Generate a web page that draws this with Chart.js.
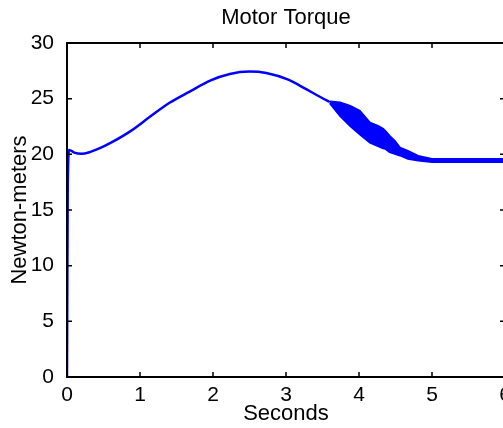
<!DOCTYPE html>
<html>
<head>
<meta charset="utf-8">
<script src="https://cdn.jsdelivr.net/npm/chart.js@4.4.1/dist/chart.umd.min.js"></script>
<style>
  html, body { margin: 0; padding: 0; background: #fff; overflow: hidden; }
</style>
</head>
<body>
<canvas id="torqueChart" width="520" height="428"></canvas>
<script>
// Smooth part of the torque trace (seconds, N·m)
const timeSmooth = [0, 0.01, 0.03, 0.1, 0.2, 0.32, 0.45, 0.59, 0.86, 1.14, 1.41, 1.68, 1.96, 2.23, 2.5, 2.73, 3.04, 3.25, 3.47, 3.6];
const torqueSmooth = [0, 17, 20.4, 20.15, 20.05, 20.22, 20.55, 21.0, 22.04, 23.39, 24.65, 25.63, 26.62, 27.22, 27.43, 27.3, 26.68, 25.95, 25.15, 24.7];

// Oscillating part: upper and lower edge of the band
const timeBand = [3.6, 3.74, 3.88, 4.01, 4.15, 4.26, 4.33, 4.36, 4.42, 4.49, 4.56, 4.67, 4.81, 5.0, 5.2, 6.0];
const torqueUpper = [24.75, 24.65, 24.35, 23.9, 22.85, 22.55, 22.3, 22.1, 21.65, 21.2, 20.6, 20.3, 19.85, 19.58, 19.58, 19.58];
const torqueLower = [24.6, 23.45, 22.55, 21.8, 21.05, 20.75, 20.55, 20.5, 20.2, 20.05, 19.9, 19.6, 19.45, 19.32, 19.32, 19.32];

const xTicks = [0, 1, 2, 3, 4, 5, 6];
const yTicks = [0, 5, 10, 15, 20, 25, 30];

const FONT = '"Liberation Sans", Arial, sans-serif';
const BLUE = '#0000ff';

const toPoints = (xs, ys) => xs.map((x, i) => ({ x: x, y: ys[i] }));

// MATLAB style box with inward ticks on all four sides
const boxPlugin = {
  id: 'matlabBox',
  afterDraw(chart) {
    const { ctx, chartArea: a, scales: { x, y } } = chart;
    ctx.save();
    ctx.strokeStyle = '#000';
    ctx.lineWidth = 2;
    ctx.strokeRect(a.left, a.top, a.right - a.left, a.bottom - a.top);
    ctx.lineWidth = 1.5;
    ctx.beginPath();
    xTicks.forEach(v => {
      const px = x.getPixelForValue(v);
      ctx.moveTo(px, a.bottom); ctx.lineTo(px, a.bottom - 5);
      ctx.moveTo(px, a.top); ctx.lineTo(px, a.top + 5);
    });
    yTicks.forEach(v => {
      const py = y.getPixelForValue(v);
      ctx.moveTo(a.left, py); ctx.lineTo(a.left + 5, py);
      ctx.moveTo(a.right, py); ctx.lineTo(a.right - 5, py);
    });
    ctx.stroke();
    ctx.restore();
  }
};

new Chart(document.getElementById('torqueChart'), {
  type: 'line',
  data: {
    datasets: [
      {
        data: toPoints(timeSmooth, torqueSmooth),
        borderColor: BLUE,
        borderWidth: 2.5,
        pointRadius: 0,
        cubicInterpolationMode: 'monotone',
        fill: false
      },
      {
        data: toPoints(timeBand, torqueUpper),
        borderColor: BLUE,
        borderWidth: 2,
        pointRadius: 0,
        tension: 0,
        fill: false
      },
      {
        data: toPoints(timeBand, torqueLower),
        borderColor: BLUE,
        borderWidth: 2,
        pointRadius: 0,
        tension: 0,
        backgroundColor: BLUE,
        fill: '-1'
      }
    ]
  },
  options: {
    responsive: false,
    animation: false,
    layout: { padding: { left: 0, right: 15, top: 0, bottom: 0 } },
    plugins: {
      legend: { display: false },
      tooltip: { enabled: false },
      title: {
        display: true,
        fullSize: false,
        text: 'Motor Torque',
        color: '#000',
        font: { family: FONT, size: 22, weight: 'normal' },
        padding: { top: 5, bottom: 11.6 }
      }
    },
    scales: {
      x: {
        type: 'linear',
        min: 0,
        max: 6,
        afterFit(scale) { scale.height = 51; },
        afterBuildTicks(scale) { scale.ticks = xTicks.map(v => ({ value: v })); },
        grid: { display: false },
        border: { display: false },
        ticks: {
          color: '#000',
          padding: 0,
          maxRotation: 0,
          font: { family: FONT, size: 21, lineHeight: 1 }
        },
        title: {
          display: true,
          text: 'Seconds',
          color: '#000',
          font: { family: FONT, size: 22 },
          padding: { top: 0, bottom: 0.8 }
        }
      },
      y: {
        min: 0,
        max: 30,
        afterFit(scale) { scale.width = 67; },
        afterBuildTicks(scale) { scale.ticks = yTicks.map(v => ({ value: v })); },
        grid: { display: false },
        border: { display: false },
        ticks: {
          color: '#000',
          padding: 5,
          font: { family: FONT, size: 21, lineHeight: 1 }
        },
        title: {
          display: true,
          text: 'Newton-meters',
          color: '#000',
          font: { family: FONT, size: 22 },
          padding: { top: 7, bottom: 0 }
        }
      }
    }
  },
  plugins: [boxPlugin]
});
</script>
</body>
</html>
